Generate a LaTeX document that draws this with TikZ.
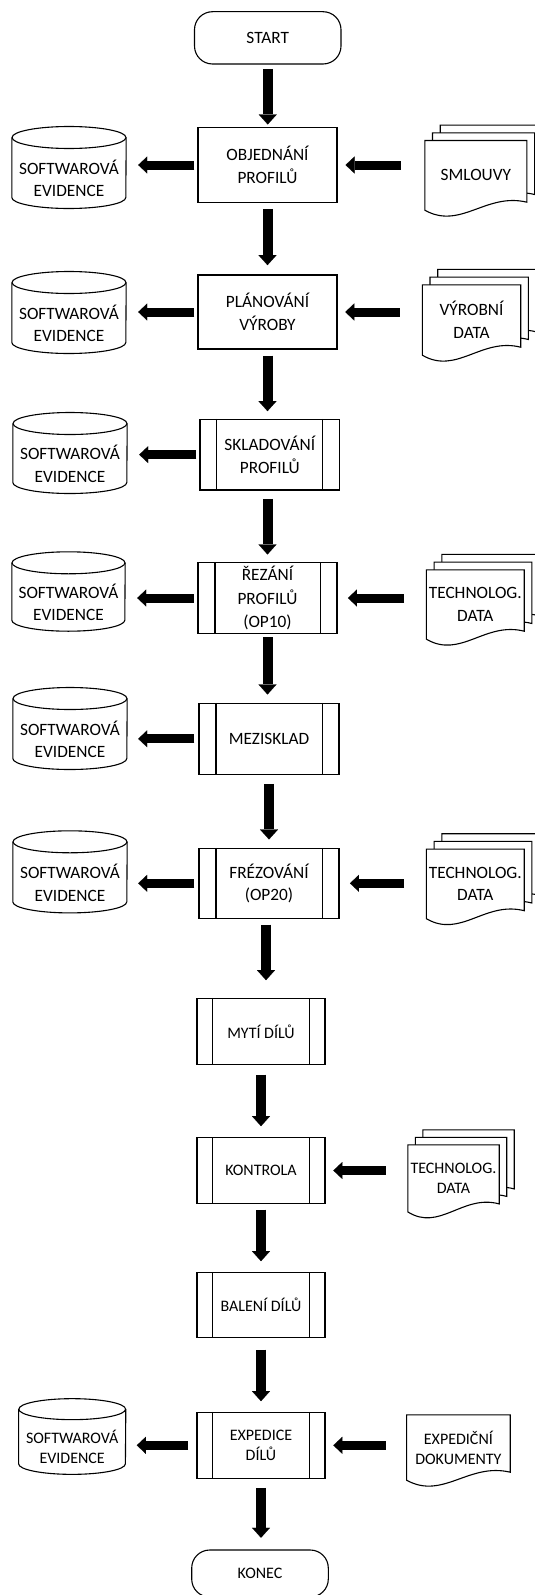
\documentclass[tikz,border=0pt]{standalone}
\usepackage{fontspec}
\setmainfont{Carlito}
\usetikzlibrary{arrows.meta,calc,backgrounds}
\newcommand\fupper{\fontsize{17.3pt}{22.5pt}\selectfont}
\newcommand\frez{\fontsize{17.3pt}{23.3pt}\selectfont}
\newcommand\flower{\fontsize{16pt}{20pt}\selectfont}
\newcommand\subln[2]{\draw[ln] ([xshift=#2pt]#1.north west) -- ([xshift=#2pt]#1.south west) ([xshift=-#2pt]#1.north east) -- ([xshift=-#2pt]#1.south east);}
\newcommand\drawdoc[2]{%
  \draw[ln, fill=white]
    ($(#1.north west)+(#2pt,#2pt)$) --
    ($(#1.north east)+(#2pt,#2pt)$) --
    ($(#1.south east)+(#2pt,#2pt+8pt)$) ..
    controls ($(#1.south west)!0.6!(#1.south east)+(#2pt,#2pt+18pt)$)
    and ($(#1.south west)!0.35!(#1.south east)+(#2pt,#2pt-20pt)$) ..
    ($(#1.south west)+(#2pt,#2pt)$) -- cycle;}
\newcommand\drawcyl[3]{%
  \draw[ln] ($(#1.north west)+(0pt,#3pt)$) -- ($(#1.south west)+(0pt,#3pt)$)
     arc[start angle=180, end angle=360, x radius=#2pt, y radius=#3pt]
     -- ($(#1.north east)+(0pt,#3pt)$);
  \draw[ln] ($(#1.north)+(0pt,#3pt)$) ellipse[x radius=#2pt, y radius=#3pt];}
\begin{document}
\begin{tikzpicture}[x=1pt,y=-1pt,
  ln/.style={line width=1.1pt, draw=black},
  sz/.style 2 args={minimum width=#1pt, minimum height=#2pt},
  txt/.style={inner sep=0pt, align=center, font=\fupper},
  boxn/.style={txt, ln, draw},
  term/.style={boxn, rounded corners=18pt},
  low/.style={font=\flower},
  flowv/.style={line width=10pt, -{Triangle[width=18pt,length=10pt,line width=0.1pt]}},
  flowh/.style={line width=9pt, -{Triangle[width=17pt,length=9pt,line width=0.1pt]}},
  sh/.style 2 args={shorten <=#1pt, shorten >=#2pt}]

\useasboundingbox (0,0) rectangle (535,1595);
\clip (0,0) rectangle (535,1595);

% process column
\node[term, sz={146.5}{52.3}] (start) at (267.75,37.85) {START};
\node[boxn, sz={139}{74.6}] (obj) at (267.5,165) {OBJEDNÁNÍ\\PROFILŮ};
\node[boxn, sz={139}{74}] (plan) at (267.5,312) {PLÁNOVÁNÍ\\VÝROBY};
\node[boxn, sz={139.6}{70.7}] (sklad) at (269.8,454.65) {SKLADOVÁNÍ\\PROFILŮ};
\node[boxn, font=\frez, sz={139}{70.6}] (rez) at (267.5,598) {ŘEZÁNÍ\\PROFILŮ\\(OP10)};
\node[boxn, sz={140}{71}] (mezi) at (269,738.8) {MEZISKLAD};
\node[boxn, sz={140}{70}] (frez) at (269,883.3) {FRÉZOVÁNÍ\\(OP20)};
\node[boxn, low, sz={128}{66}] (myti) at (261,1031.3) {MYTÍ DÍLŮ};
\node[boxn, low, sz={128}{65.6}] (kont) at (261,1170.5) {KONTROLA};
\node[boxn, low, sz={128}{65}] (bal) at (261,1305.2) {BALENÍ DÍLŮ};
\node[boxn, low, sz={128}{66}] (exp) at (261,1445.3) {EXPEDICE\\DÍLŮ};
\node[term, low, sz={136.6}{47}] (konec) at (260,1573.5) {KONEC};

\subln{sklad}{17.4}
\subln{rez}{17.5}
\subln{mezi}{17.5}
\subln{frez}{17.5}
\subln{myti}{16}
\subln{kont}{16}
\subln{bal}{16}
\subln{exp}{16}

% databases
\node[txt, sz={114}{59.6}] (c1) at (69,178.5) {SOFTWAROVÁ\\EVIDENCE};
\node[txt, sz={114}{59.6}] (c2) at (69,323.5) {SOFTWAROVÁ\\EVIDENCE};
\node[txt, sz={114}{58.6}] (c3) at (70,464) {SOFTWAROVÁ\\EVIDENCE};
\node[txt, sz={113}{57}] (c4) at (68.5,602.5) {SOFTWAROVÁ\\EVIDENCE};
\node[txt, sz={114}{59.6}] (c5) at (70,739.5) {SOFTWAROVÁ\\EVIDENCE};
\node[txt, sz={114}{59.7}] (c6) at (70,882.85) {SOFTWAROVÁ\\EVIDENCE};
\node[txt, low, sz={106.8}{54.3}] (c7) at (72.2,1447) {SOFTWAROVÁ\\EVIDENCE};

% documents
\node[txt, sz={101.7}{69.3}] (d1) at (475.85,175.35) {SMLOUVY};
\node[txt, sz={98}{70}] (d2) at (471.5,320) {VÝROBNÍ\\DATA};
\node[txt, sz={97.4}{69}] (d3) at (475.3,604.5) {TECHNOLOG.\\DATA};
\node[txt, sz={97.4}{69.2}] (d4) at (475.3,883.9) {TECHNOLOG.\\DATA};
\node[txt, low, sz={91}{66.7}] (d5) at (453.5,1178.35) {TECHNOLOG.\\DATA};
\node[txt, low, sz={103.2}{65}] (d6) at (458.4,1447.5) {EXPEDIČNÍ\\DOKUMENTY};

\begin{pgfonlayer}{background}
\fill[white] (0,0) rectangle (535,1595);
\drawdoc{d1}{15.4}\drawdoc{d1}{7.7}\drawdoc{d1}{0}
\drawdoc{d2}{15.4}\drawdoc{d2}{7.7}\drawdoc{d2}{0}
\drawdoc{d3}{15.4}\drawdoc{d3}{7.7}\drawdoc{d3}{0}
\drawdoc{d4}{15.4}\drawdoc{d4}{7.7}\drawdoc{d4}{0}
\drawdoc{d5}{15}\drawdoc{d5}{7.5}\drawdoc{d5}{0}
\drawdoc{d6}{0}
\drawcyl{c1}{57}{11}
\drawcyl{c2}{57}{11}
\drawcyl{c3}{57}{11}
\drawcyl{c4}{56.5}{11}
\drawcyl{c5}{57}{11}
\drawcyl{c6}{57}{11}
\drawcyl{c7}{53.4}{10.5}
\end{pgfonlayer}

% vertical flow
\draw[flowv, sh={4.3}{2.7}] (start.south) -- (start.south |- obj.north);
\draw[flowv, sh={6}{9.3}] (obj.south) -- (obj.south |- plan.north);
\draw[flowv, sh={6}{7.6}] (plan.south) -- (plan.south |- sklad.north);
\draw[flowv, sh={8.3}{7.7}] (rez.north |- sklad.south) -- (rez.north);
\draw[flowv, sh={3.4}{8.3}] (rez.south) -- (rez.south |- mezi.north);
\draw[flowv, sh={9}{8.3}] (mezi.south) -- (mezi.south |- frez.north);
\draw[flowv, sh={5.7}{17.6}] ([xshift=-3pt]frez.south) -- ([xshift=-3pt]frez.south |- myti.north);
\draw[flowv, sh={9.7}{11}] (myti.south) -- (myti.south |- kont.north);
\draw[flowv, sh={5.7}{11}] (kont.south) -- (kont.south |- bal.north);
\draw[flowv, sh={11.3}{10.6}] (bal.south) -- (bal.south |- exp.north);
\draw[flowv, sh={9}{11.7}] (exp.south) -- (exp.south |- konec.north);

% to databases
\draw[flowh, sh={3}{12}] (obj.west) -- (obj.west -| c1.east);
\draw[flowh, sh={3}{12}] (plan.west) -- (plan.west -| c2.east);
\draw[flowh, sh={3}{12}] (sklad.west) -- (sklad.west -| c3.east);
\draw[flowh, sh={3.5}{12}] (rez.west) -- (rez.west -| c4.east);
\draw[flowh, sh={4}{11}] (mezi.west) -- (mezi.west -| c5.east);
\draw[flowh, sh={4}{11}] (frez.west) -- (frez.west -| c6.east);
\draw[flowh, sh={8.3}{11}] (exp.west) -- (exp.west -| c7.east);

% from documents
\draw[flowh, sh={24}{8}] (obj.east -| d1.west) -- (obj.east);
\draw[flowh, sh={22.5}{7.7}] (plan.east -| d2.west) -- (plan.east);
\draw[flowh, sh={22.2}{10.4}] (rez.east -| d3.west) -- (rez.east);
\draw[flowh, sh={22.2}{10.4}] (frez.east -| d4.west) -- (frez.east);
\draw[flowh, sh={22.3}{7.8}] (kont.east -| d5.west) -- (kont.east);
\draw[flowh, sh={21}{7.8}] (exp.east -| d6.west) -- (exp.east);
\end{tikzpicture}
\end{document}
